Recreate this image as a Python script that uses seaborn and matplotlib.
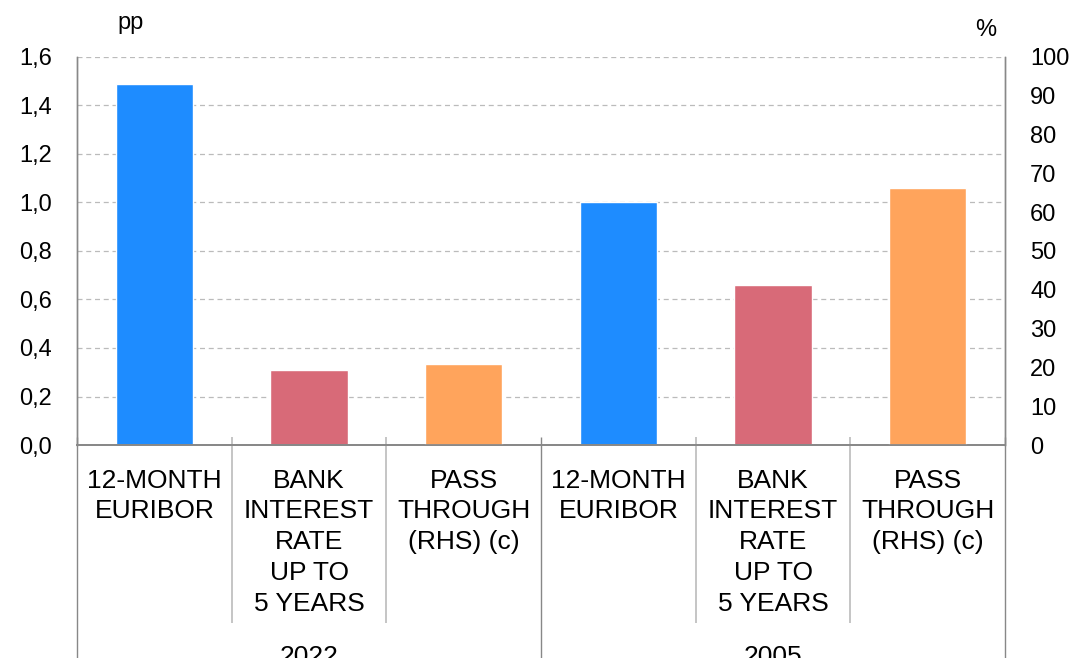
import pandas as pd
import seaborn as sns
import matplotlib.pyplot as plt
from matplotlib.transforms import blended_transform_factory

# data
groups = ["2022", "2022", "2022", "2005", "2005", "2005"]
series = ["euribor", "bank", "pass", "euribor", "bank", "pass"]
labels = ["12-MONTH\nEURIBOR", "BANK\nINTEREST\nRATE\nUP TO\n5 YEARS", "PASS\nTHROUGH\n(RHS) (c)"] * 2
values = [1.49, 0.31, 20.9, 1.00, 0.66, 66.2]  # pp, pp, %, pp, pp, %
palette = {"euribor": "#1E8CFF", "bank": "#D86A78", "pass": "#FFA45C"}

if __name__ == "__main__":
    sns.set_theme(style="white")
    plt.rcParams["font.family"] = ["Liberation Sans", "DejaVu Sans"]
    plt.rcParams["text.color"] = "black"
    plt.rcParams["xtick.color"] = "black"
    plt.rcParams["ytick.color"] = "black"

    keys = [f"{g}|{s}" for g, s in zip(groups, series)]
    df = pd.DataFrame({"key": keys, "group": groups, "series": series, "value": values})
    left = df[df["series"] != "pass"]
    right = df[df["series"] == "pass"]

    fig = plt.figure(figsize=(10.74, 6.58), dpi=100)
    ax = fig.add_axes([0.0717, 0.3237, 0.8641, 0.5897])
    ax2 = ax.twinx()

    sns.barplot(data=left, x="key", y="value", hue="series", palette=palette, order=keys,
                dodge=False, width=0.5, legend=False, ax=ax, saturation=1)
    sns.barplot(data=right, x="key", y="value", hue="series", palette=palette, order=keys,
                dodge=False, width=0.5, legend=False, ax=ax2, saturation=1)

    ax.set_ylim(0, 1.6)
    ax.set_yticks([i * 0.2 for i in range(9)])
    ax.set_yticklabels([f"{i * 0.2:.1f}".replace(".", ",") for i in range(9)])
    ax2.set_ylim(0, 100)
    ax2.set_yticks(range(0, 101, 10))
    ax.set_xlim(-0.5, 5.5)

    ax.yaxis.grid(True, color="#BBBBBB", linestyle=(0, (4, 3)), linewidth=0.9)
    ax.set_axisbelow(True)
    ax.set_xlabel("")
    ax.set_ylabel("")
    ax2.set_ylabel("")
    ax.set_xticks(range(6))
    ax.set_xticklabels(labels, fontsize=19, linespacing=1.36, va="top")
    ax.tick_params(axis="x", length=0, pad=17)
    ax.tick_params(axis="y", length=0, labelsize=17, pad=18)
    ax2.tick_params(axis="y", length=0, labelsize=17, pad=18)
    for a in (ax, ax2):
        a.spines["top"].set_visible(False)
        a.spines["left"].set_color("#888888")
        a.spines["right"].set_color("#888888")
        a.spines["bottom"].set_color("#888888")
        a.spines["left"].set_linewidth(1.0)
        a.spines["right"].set_linewidth(1.0)

    # category separators and group separators
    tr = blended_transform_factory(ax.transData, ax.transAxes)
    ax.vlines([0.5, 1.5, 3.5, 4.5], -0.459, 0.02, transform=tr, color="#BBBBBB",
              linewidth=1.2, clip_on=False)
    ax.vlines([-0.5, 2.5, 5.5], -0.56, 0.02, transform=tr, color="#888888",
              linewidth=1.0, clip_on=False)
    for x, g in [(1, "2022"), (4, "2005")]:
        ax.text(x, -0.515, g, transform=tr, ha="center", va="top", fontsize=19)

    fig.text(131 / 1074, 1 - 23 / 658, "pp", ha="center", va="center", fontsize=17)
    fig.text(986 / 1074, 1 - 30 / 658, "%", ha="center", va="center", fontsize=17)

    fig.savefig("out.png", dpi=100)
